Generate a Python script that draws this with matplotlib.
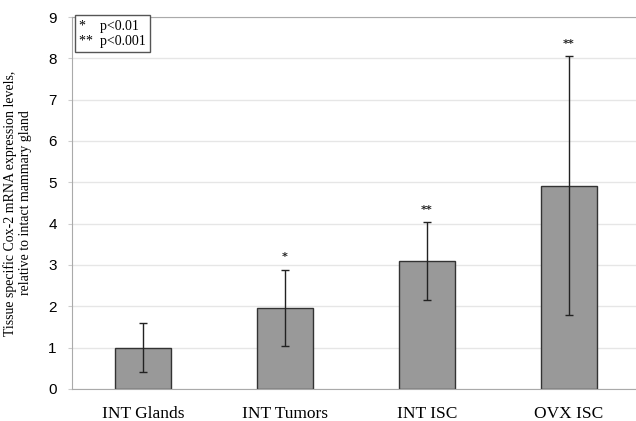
import matplotlib.pyplot as plt

categories = ['INT Glands', 'INT Tumors', 'INT ISC', 'OVX ISC']
means = [1.0, 1.96, 3.1, 4.92]
errors = [0.6, 0.93, 0.94, 3.13]
stars = ['', '*', '**', '**']

fig = plt.figure(figsize=(6.36, 4.21), dpi=100)
ax = fig.add_axes([72 / 636, 1 - 389 / 421, 568 / 636, 372 / 421])

x = range(len(categories))
ax.bar(x, means, width=0.4, color='#999999', edgecolor='#333333', linewidth=1, zorder=2)
ax.errorbar(x, means, yerr=errors, fmt='none', ecolor='#222222', elinewidth=1,
            capsize=3, capthick=1, zorder=3)

# significance stars above the error bars
for i, s in enumerate(stars):
    if s:
        ax.text(i, means[i] + errors[i] + 0.18, s, ha='center', va='bottom',
                fontsize=8, fontweight='bold', color='#222222')

ax.set_xlim(-0.5, 3.5)
ax.set_ylim(0, 9)
ax.set_yticks(range(10))
ax.yaxis.grid(True, color='#e6e6e6', linewidth=1, zorder=0)
ax.set_axisbelow(True)

ax.spines['right'].set_visible(False)
for side in ['left', 'bottom', 'top']:
    ax.spines[side].set_color('#aaaaaa')

ax.set_xticks(list(x))
ax.set_xticklabels(categories, fontfamily='Liberation Serif', fontsize=12.5)
ax.tick_params(axis='x', length=0, pad=12)
ax.tick_params(axis='y', length=3, color='#cccccc', labelsize=11, pad=8)
for lbl in ax.get_yticklabels():
    lbl.set_fontfamily('Liberation Sans')

ax.set_ylabel('Tissue specific Cox-2 mRNA expression levels,\nrelative to intact mammary gland',
              fontfamily='Liberation Serif', fontsize=10, labelpad=12)

ax.text(0.012, 0.993, '*    p<0.01\n**  p<0.001', transform=ax.transAxes, ha='left', va='top',
        fontfamily='Liberation Serif', fontsize=10, linespacing=1.25,
        bbox=dict(boxstyle='square,pad=0.3', facecolor='white', edgecolor='#555555', linewidth=1))

fig.savefig('out.png', dpi=100)
